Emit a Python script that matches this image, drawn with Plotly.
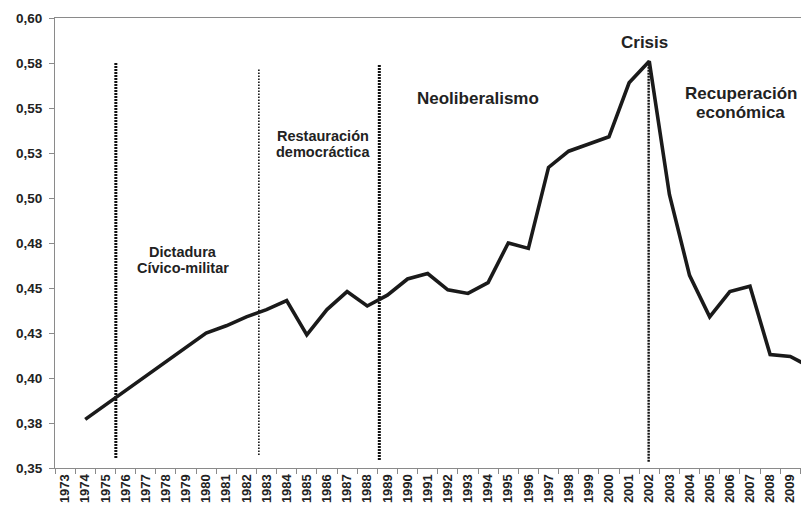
import plotly.graph_objects as go

years = list(range(1974, 2011))
gini = [0.377, 0.385, 0.393, 0.401, 0.409, 0.417, 0.425, 0.429, 0.434, 0.438,
        0.443, 0.424, 0.438, 0.448, 0.440, 0.446, 0.455, 0.458, 0.449, 0.447,
        0.453, 0.475, 0.472, 0.517, 0.526, 0.530, 0.534, 0.564, 0.576, 0.502,
        0.457, 0.434, 0.448, 0.451, 0.413, 0.412, 0.406]

tick_years = list(range(1973, 2011))
y_ticks = [0.35, 0.375, 0.40, 0.425, 0.45, 0.475, 0.50, 0.525, 0.55, 0.575, 0.60]
y_tick_text = ["0,35", "0,38", "0,40", "0,43", "0,45", "0,48", "0,50", "0,53", "0,55", "0,58", "0,60"]

FONT = "Liberation Sans, Arial, sans-serif"
AX = "#8a8a8a"
TXT = "#222222"

fig = go.Figure()
fig.add_trace(go.Scatter(x=years, y=gini, mode="lines",
                         line=dict(color="#1a1a1a", width=3.6),
                         hoverinfo="x+y", showlegend=False))

# period dividers
dividers = [
    (1975.52, 0.3556, 0.575, 3.0, "2px,1px"),
    (1982.62, 0.3572, 0.5717, 1.6, "1.5px,1.5px"),
    (1988.60, 0.3544, 0.5739, 3.0, "2px,1px"),
    (2001.97, 0.3535, 0.5760, 2.4, "2px,1px"),
]
for x, y0, y1, w, d in dividers:
    fig.add_shape(type="line", xref="x", yref="y", x0=x, x1=x, y0=y0, y1=y1,
                  line=dict(color="#111111", width=w, dash=d), layer="below")

labels = [
    ("Dictadura", 1978.86, 0.4700, 14.5),
    ("Cívico-militar", 1978.86, 0.4611, 14.5),
    ("Restauración", 1985.79, 0.5344, 14.5),
    ("democráctica", 1985.79, 0.5254, 14.5),
    ("Neoliberalismo", 1993.52, 0.5554, 17),
    ("Crisis", 2001.74, 0.5863, 17),
    ("Recuperación", 2006.54, 0.5582, 17),
    ("económica", 2006.54, 0.5474, 17),
]
for t, x, y, s in labels:
    fig.add_annotation(text="<b>%s</b>" % t, x=x, y=y, xref="x", yref="y",
                       showarrow=False, xanchor="center", yanchor="middle",
                       font=dict(family=FONT, size=s, color=TXT))

# partially visible last category label (cut by the picture edge, as in the source)
fig.add_annotation(text="<b>2010</b>", x=1.0019, y=-0.006, xref="paper", yref="paper",
                   showarrow=False, textangle=-90, xanchor="center", yanchor="top",
                   font=dict(family=FONT, size=13, color=TXT))

fig.update_layout(
    width=801, height=502,
    margin=dict(l=46.8, r=0, t=10, b=42, autoexpand=False),
    paper_bgcolor="white", plot_bgcolor="white",
    font=dict(family=FONT, color=TXT),
    xaxis=dict(range=[1972.5, 2009.93], tickmode="array", tickvals=tick_years,
               ticktext=["<b>%d</b>" % y for y in tick_years], tickangle=-90,
               ticks="", ticklen=0, showgrid=False, zeroline=False, automargin=False,
               showline=True, linecolor=AX, linewidth=1, mirror=True,
               tickfont=dict(family=FONT, size=13, color=TXT),
               minor=dict(tickvals=[y + 0.5 for y in range(1972, 2010)], ticks="outside",
                          ticklen=5, tickcolor=AX, tickwidth=1, showgrid=False)),
    yaxis=dict(range=[0.35, 0.60], tickmode="array", tickvals=y_ticks,
               ticktext=["<b>%s</b>" % t for t in y_tick_text], automargin=False,
               ticks="outside", ticklen=5, tickcolor=AX, showgrid=False, zeroline=False,
               showline=True, linecolor=AX, linewidth=1,
               tickfont=dict(family=FONT, size=13.5, color=TXT), ticklabelstandoff=4),
)

fig.write_html("out.html")
